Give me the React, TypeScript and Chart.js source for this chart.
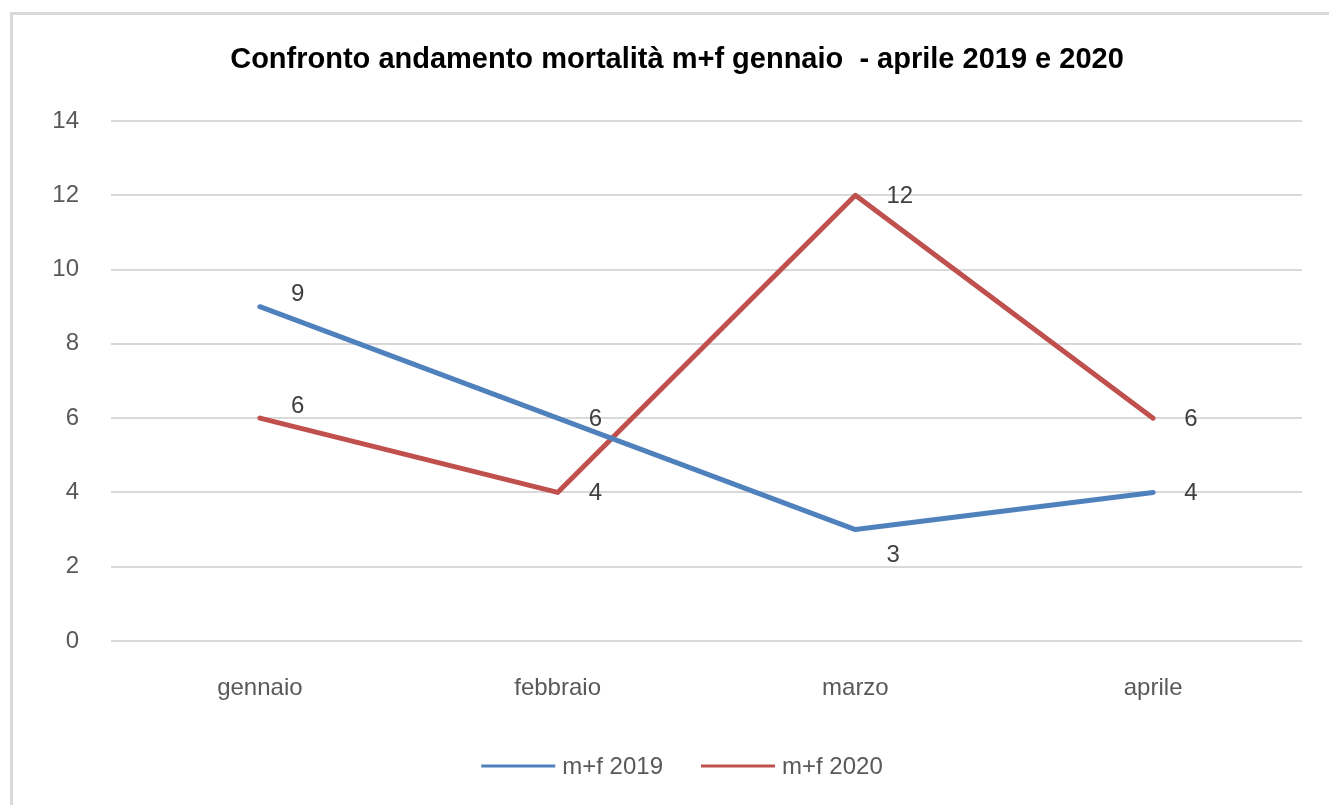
import React, { useEffect, useRef } from "react";
import { Chart, registerables } from "chart.js";

Chart.register(...registerables);

const categories = ["gennaio", "febbraio", "marzo", "aprile"];
const series2019 = [9, 6, 3, 4];
const series2020 = [6, 4, 12, 6];
const seriesNames = ["m+f 2019", "m+f 2020"];
const seriesColors = ["#4f81bd", "#c0504d"];
// label placement per point: "r" right, "tr" upper-right, "b" lower-right
const labelPlace2019 = ["tr", "r", "b", "r"];
const labelPlace2020 = ["tr", "r", "r", "r"];
const yTicks = [0, 2, 4, 6, 8, 10, 12, 14];
const titleText = "Confronto andamento mortalità m+f gennaio  - aprile 2019 e 2020";

const FONT = "'Liberation Sans', Arial, sans-serif";

const dataLabelPlugin = {
  id: "dataLabels",
  afterDatasetsDraw(chart: any) {
    const ctx = chart.ctx;
    const places = [labelPlace2019, labelPlace2020];
    ctx.save();
    ctx.font = `24px ${FONT}`;
    ctx.fillStyle = "#404040";
    ctx.textAlign = "left";
    ctx.textBaseline = "middle";
    chart.data.datasets.forEach((ds: any, di: number) => {
      const meta = chart.getDatasetMeta(di);
      meta.data.forEach((pt: any, i: number) => {
        const p = places[di][i];
        const dy = p === "tr" ? -12 : p === "b" ? 26 : 1;
        ctx.fillText(String(ds.data[i]), pt.x + 31, pt.y + dy);
      });
    });
    ctx.restore();
  },
};

const titleLegendPlugin = {
  id: "titleLegend",
  afterDraw(chart: any) {
    const ctx = chart.ctx;
    ctx.save();
    // title
    ctx.font = `bold 29px ${FONT}`;
    ctx.fillStyle = "#000000";
    ctx.textAlign = "center";
    ctx.textBaseline = "middle";
    ctx.fillText(titleText, 677, 60);
    // legend
    ctx.font = `24px ${FONT}`;
    ctx.textAlign = "left";
    const lineW = 74;
    const gap = 7;
    const itemGap = 38;
    const widths = seriesNames.map((n) => lineW + gap + ctx.measureText(n).width);
    const total = widths.reduce((a, b) => a + b, 0) + itemGap * (widths.length - 1);
    let x = 682 - total / 2;
    const y = 767;
    seriesNames.forEach((n, i) => {
      ctx.strokeStyle = seriesColors[i];
      ctx.lineWidth = 3;
      ctx.beginPath();
      ctx.moveTo(x, y - 1);
      ctx.lineTo(x + lineW, y - 1);
      ctx.stroke();
      ctx.fillStyle = "#595959";
      ctx.fillText(n, x + lineW + gap, y);
      x += widths[i] + itemGap;
    });
    ctx.restore();
  },
};

export default function App() {
  const ref = useRef<HTMLCanvasElement | null>(null);
  useEffect(() => {
    if (!ref.current) return;
    const chart = new Chart(ref.current, {
      type: "line",
      data: {
        labels: categories,
        datasets: [
          {
            label: seriesNames[0],
            data: series2019,
            borderColor: seriesColors[0],
            backgroundColor: seriesColors[0],
            borderWidth: 5,
            pointRadius: 0,
            tension: 0,
            borderCapStyle: "round",
            borderJoinStyle: "round",
          },
          {
            label: seriesNames[1],
            data: series2020,
            borderColor: seriesColors[1],
            backgroundColor: seriesColors[1],
            borderWidth: 5,
            pointRadius: 0,
            tension: 0,
            borderCapStyle: "round",
            borderJoinStyle: "round",
          },
        ],
      },
      options: {
        responsive: false,
        animation: false,
        devicePixelRatio: 1,
        layout: { padding: { left: 0, right: 27, top: 121, bottom: 84 } },
        plugins: {
          legend: { display: false },
          tooltip: { enabled: false },
          title: { display: false },
        },
        scales: {
          x: {
            offset: true,
            grid: { display: false, drawTicks: false },
            border: { display: false },
            ticks: {
              color: "#595959",
              font: { family: FONT, size: 24 },
              padding: 33,
            },
            afterFit: (s: any) => {
              s.height = 80;
            },
          },
          y: {
            min: 0,
            max: 14,
            afterBuildTicks: (s: any) => {
              s.ticks = yTicks.map((v) => ({ value: v }));
            },
            grid: { color: "#d9d9d9", lineWidth: 2, drawTicks: false },
            border: { display: false },
            ticks: {
              color: "#595959",
              font: { family: FONT, size: 24 },
              padding: 32,
            },
            afterFit: (s: any) => {
              s.width = 111;
            },
          },
        },
      },
      plugins: [dataLabelPlugin, titleLegendPlugin],
    });
    return () => chart.destroy();
  }, []);

  return (
    <div style={{ position: "absolute", left: 0, top: 0, width: 1329, height: 805, background: "#ffffff", overflow: "hidden" }}>
      <div
        style={{
          position: "absolute",
          left: 10,
          top: 12,
          width: 1400,
          height: 900,
          borderLeft: "3px solid #d9d9d9",
          borderTop: "3px solid #d9d9d9",
        }}
      />
      <canvas ref={ref} width={1329} height={805} style={{ position: "absolute", left: 0, top: 0 }} />
    </div>
  );
}
